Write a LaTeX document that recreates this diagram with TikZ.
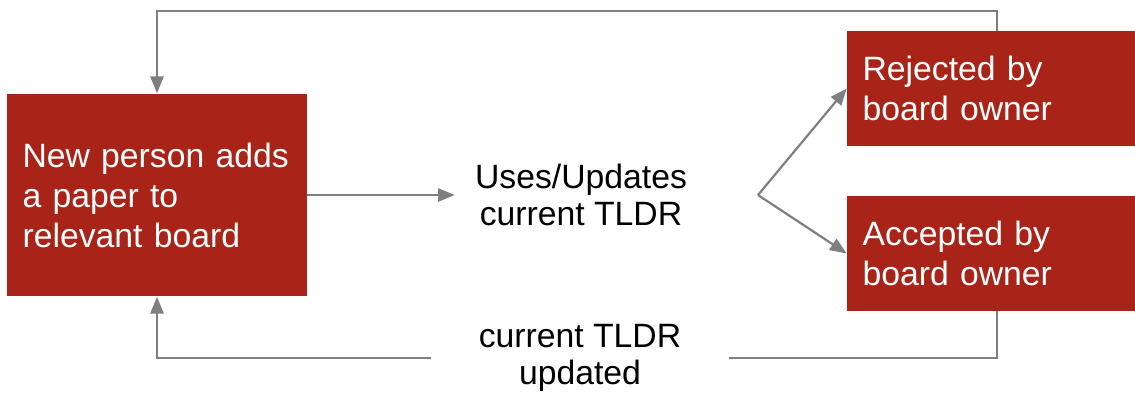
\documentclass[tikz,border=0pt]{standalone}
\usepackage{fontspec}
\setmainfont{Liberation Sans}
\usetikzlibrary{arrows.meta}
\definecolor{boxred}{RGB}{168,35,24}
\definecolor{linegray}{RGB}{125,127,131}

\begin{document}
\begin{tikzpicture}[
    x=0.02cm, y=-0.02cm,
    box/.style = {rectangle, fill=boxred, text=white, minimum width=6cm,
                 text width=5.38cm, inner xsep=0.31cm, align=left,
                 font=\fontsize{19.2}{22.8}\selectfont},
    txt/.style = {align=center, font=\fontsize{19.2}{21.4}\selectfont},
    line/.style = {draw=linegray, line width=1.25pt},
    arr/.style = {line, -{Triangle[length=9.5pt, width=7.5pt]}}
]
\useasboundingbox (0,0) rectangle (1135,393);

% Boxes
\node[box, minimum height=4.06cm] (new) at (157,195) {New person adds\\ a paper to\\ relevant board};
\node[box, minimum height=2.3cm] (rej) at (997,88.5) {Rejected by\\ board owner};
\node[box, minimum height=2.3cm] (acc) at (997,253.5) {Accepted by\\ board owner};

% Labels
\node[txt, inner xsep=0.4cm] (use) at (581,195) {Uses/Updates\\ current TLDR};
\node[txt, inner xsep=0.95cm] (upd) at (580,358) {current TLDR\\ updated};

\coordinate (fork) at (758,195);
\coordinate (top) at (0,11);

% Arrows
\draw[arr] (new.east) -- (use.west);
\draw[arr] (fork) -- (rej.west);
\draw[arr] (fork) -- (acc.west);
\draw[arr] (rej.north) -- (rej.north |- top) -| (new.north);
\draw[line] (acc.south) |- (upd.east);
\draw[arr] (upd.west) -| (new.south);

\end{tikzpicture}
\end{document}
